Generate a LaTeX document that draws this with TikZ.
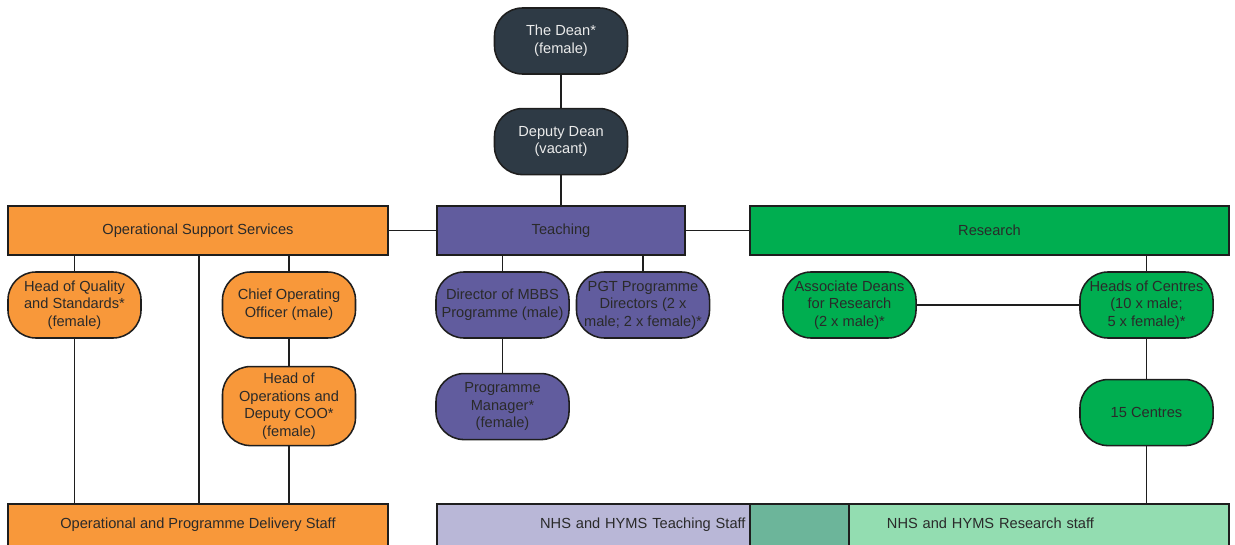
\documentclass[tikz,border=0pt]{standalone}
\usepackage{fontspec}
\setmainfont{Liberation Sans}
\usetikzlibrary{positioning, calc}
\definecolor{pizarraoscura}{HTML}{2E3A45}
\definecolor{naranjaops}{HTML}{F8983A}
\definecolor{moradoteach}{HTML}{615C9E}
\definecolor{verderesearch}{HTML}{00AE50}
\colorlet{colDean}{pizarraoscura}
\colorlet{colOps}{naranjaops}
\colorlet{colTeach}{moradoteach}
\colorlet{colResearch}{verderesearch}
\definecolor{colTeachStaff}{HTML}{B9B7D7}
\definecolor{colShared}{HTML}{6CB59A}
\definecolor{colResStaff}{HTML}{93DDB1}
\definecolor{colText}{HTML}{2A2A2A}
\definecolor{colLine}{HTML}{1E1E1E}
\tikzset{
  boxBase/.style={
    draw=colLine, line width=1.1pt, align=center,
    font=\fontsize{10.4}{12.5}\selectfont, text=colText, inner sep=2pt
  },
  pillBase/.style={boxBase, rounded corners=0.7cm,
    minimum width=3.325cm, minimum height=1.65cm},
  pillDean/.style={pillBase, fill=colDean, text=white!92!black},
  pillOps/.style={pillBase, fill=colOps},
  pillTeach/.style={pillBase, fill=colTeach},
  pillResearch/.style={pillBase, fill=colResearch},
  barBase/.style={boxBase, minimum height=1.225cm},
  staffBase/.style={boxBase, anchor=north, inner xsep=3pt, inner ysep=0.3cm,
    text height=0.325cm, text depth=0.8cm},
  linea/.style={line width=1.1pt, colLine},
}

\begin{document}
\begin{tikzpicture}[x=0.025cm, y=-0.025cm]
    \useasboundingbox (0,0) rectangle (1235,545);

    \node[pillDean] (dean) at (561,41) {The Dean*\\(female)};
    \node[pillDean, below=0.825cm of dean] (deputy) {Deputy Dean\\(vacant)};

    \node[barBase, fill=colOps, minimum width=9.5cm] (ops) at (198,230.5) {Operational Support Services};
    \node[barBase, fill=colTeach, minimum width=6.2cm] (teach) at (561,230.5) {Teaching};
    \node[barBase, fill=colResearch, minimum width=11.975cm] (research) at (989.5,230.5) {Research};

    \node[pillOps] (hqs) at (74.5,305) {Head of Quality\\and Standards*\\(female)};
    \node[pillOps] (coo) at (289,305) {Chief Operating\\Officer (male)};
    \node[pillOps, minimum height=1.975cm, below=0.675cm of coo] (headOps) {Head of\\Operations and\\Deputy COO*\\(female)};

    \node[pillTeach] (mbbs) at (502.5,305) {Director of MBBS\\Programme (male)};
    \node[pillTeach] (pgt) at (643,305) {PGT Programme\\Directors (2 x\\male; 2 x female)*};
    \node[pillTeach, below=0.85cm of mbbs] (progMgr) {Programme\\Manager*\\(female)};

    \node[pillResearch] (assoc) at (849.5,305) {Associate Deans\\for Research\\(2 x male)*};
    \node[pillResearch] (heads) at (1146.5,305) {Heads of Centres\\(10 x male;\\5 x female)*};
    \node[pillResearch, below=1cm of heads] (centres) {15 Centres};

    \node[staffBase, fill=colOps, minimum width=9.5cm] (opds) at (198,503) {Operational and Programme Delivery Staff};
    \node[staffBase, fill=colTeachStaff, minimum width=7.825cm, text width=7.6cm, align=right] (tstaff) at (593.5,503) {NHS and HYMS Teaching Staff};
    \node[staffBase, fill=colShared, minimum width=2.475cm] (shared) at (799.5,503) {};
    \node[staffBase, fill=colResStaff, minimum width=9.5cm, inner xsep=0.95cm, text width=7.6cm, align=left] (rstaff) at (1039,503) {NHS and HYMS Research staff};

    \coordinate (opsMid) at (199,255);

    \draw[linea] (dean) -- (deputy);
    \draw[linea] (deputy) -- (teach);
    \draw[linea] (ops) -- (teach);
    \draw[linea] (teach) -- (research);
    \draw[linea] (ops.south -| hqs) -- (hqs);
    \draw[linea] (hqs) -- (opds.north -| hqs);
    \draw[linea] (ops.south -| opsMid) -- (opds.north -| opsMid);
    \draw[linea] (ops.south -| coo) -- (coo);
    \draw[linea] (coo) -- (headOps);
    \draw[linea] (headOps) -- (opds.north -| headOps);
    \draw[linea] (teach.south -| mbbs) -- (mbbs);
    \draw[linea] (mbbs) -- (progMgr);
    \draw[linea] (teach.south -| pgt) -- (pgt);
    \draw[linea] (research.south -| heads) -- (heads);
    \draw[linea] (assoc) -- (heads);
    \draw[linea] (heads) -- (centres);
    \draw[linea] (centres) -- (rstaff.north -| centres);
  \end{tikzpicture}
\end{document}
